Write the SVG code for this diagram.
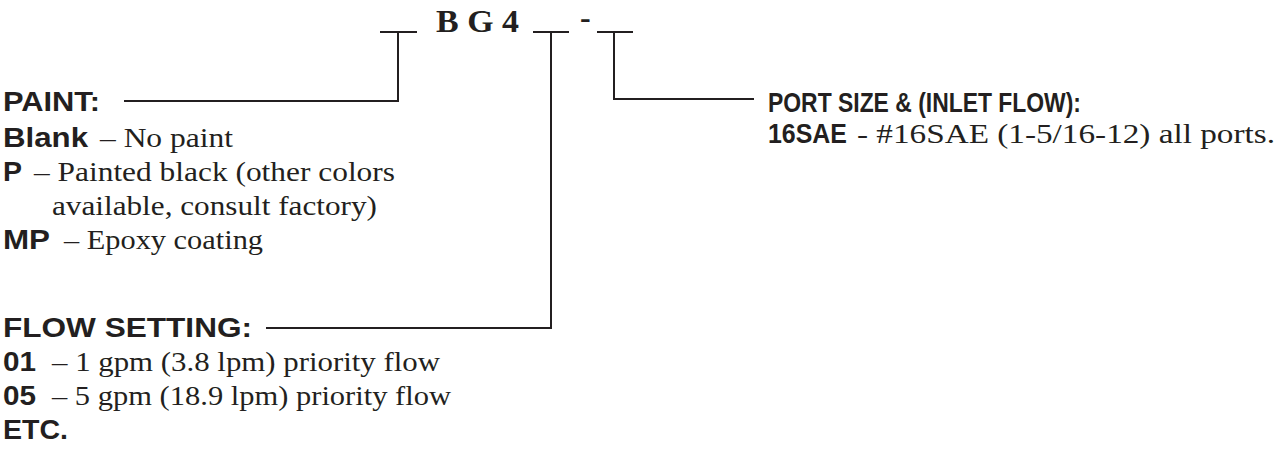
<svg xmlns="http://www.w3.org/2000/svg" width="1285" height="465" viewBox="0 0 1285 465">
<style>
.b{font-family:"Liberation Sans",Arial,sans-serif;font-weight:bold;font-size:28px;fill:#231f20}
.s{font-family:"Liberation Serif","Times New Roman",serif;font-size:28px;fill:#231f20}
.code{font-family:"Liberation Serif","Times New Roman",serif;font-weight:bold;font-size:32px;fill:#231f20}
.ln{fill:none;stroke:#231f20;stroke-width:2}
</style>
<rect width="1285" height="465" fill="#ffffff"/>
<g id="code">
<text class="code" x="436" y="32" textLength="83" lengthAdjust="spacingAndGlyphs">B G 4</text>
<text class="code" x="580" y="28" font-size="26">-</text>
</g>
<g id="connectors">
<path class="ln" d="M380,32 H417 M398,32 V101 H124"/>
<path class="ln" d="M533,32 H569 M551,32 V328 H266"/>
<path class="ln" d="M597,32 H633 M614,32 V99 H754"/>
</g>
<g id="paint">
<text class="b" x="3" y="111" textLength="97" lengthAdjust="spacingAndGlyphs">PAINT:</text>
<text class="b" x="3" y="147" textLength="85" lengthAdjust="spacingAndGlyphs">Blank</text>
<text class="s" x="100" y="147" textLength="133" lengthAdjust="spacingAndGlyphs">– No paint</text>
<text class="b" x="3" y="181" textLength="19" lengthAdjust="spacingAndGlyphs">P</text>
<text class="s" x="34" y="181" textLength="361" lengthAdjust="spacingAndGlyphs">– Painted black (other colors</text>
<text class="s" x="52" y="215" textLength="325" lengthAdjust="spacingAndGlyphs">available, consult factory)</text>
<text class="b" x="3" y="249" textLength="47" lengthAdjust="spacingAndGlyphs">MP</text>
<text class="s" x="64" y="249" textLength="199" lengthAdjust="spacingAndGlyphs">– Epoxy coating</text>
</g>
<g id="flow">
<text class="b" x="3" y="337" textLength="249" lengthAdjust="spacingAndGlyphs">FLOW SETTING:</text>
<text class="b" x="3" y="371" textLength="33" lengthAdjust="spacingAndGlyphs">01</text>
<text class="s" x="52" y="371" textLength="388" lengthAdjust="spacingAndGlyphs">– 1 gpm (3.8 lpm) priority flow</text>
<text class="b" x="3" y="405" textLength="33" lengthAdjust="spacingAndGlyphs">05</text>
<text class="s" x="52" y="405" textLength="399" lengthAdjust="spacingAndGlyphs">– 5 gpm (18.9 lpm) priority flow</text>
<text class="b" x="3" y="439" textLength="65" lengthAdjust="spacingAndGlyphs">ETC.</text>
</g>
<g id="port">
<text class="b" x="768" y="112" textLength="313" lengthAdjust="spacingAndGlyphs">PORT SIZE &amp; (INLET FLOW):</text>
<text class="b" x="768" y="143" textLength="79" lengthAdjust="spacingAndGlyphs">16SAE</text>
<text class="s" x="857" y="143" textLength="418" lengthAdjust="spacingAndGlyphs">- #16SAE (1-5/16-12) all ports.</text>
</g>
</svg>
